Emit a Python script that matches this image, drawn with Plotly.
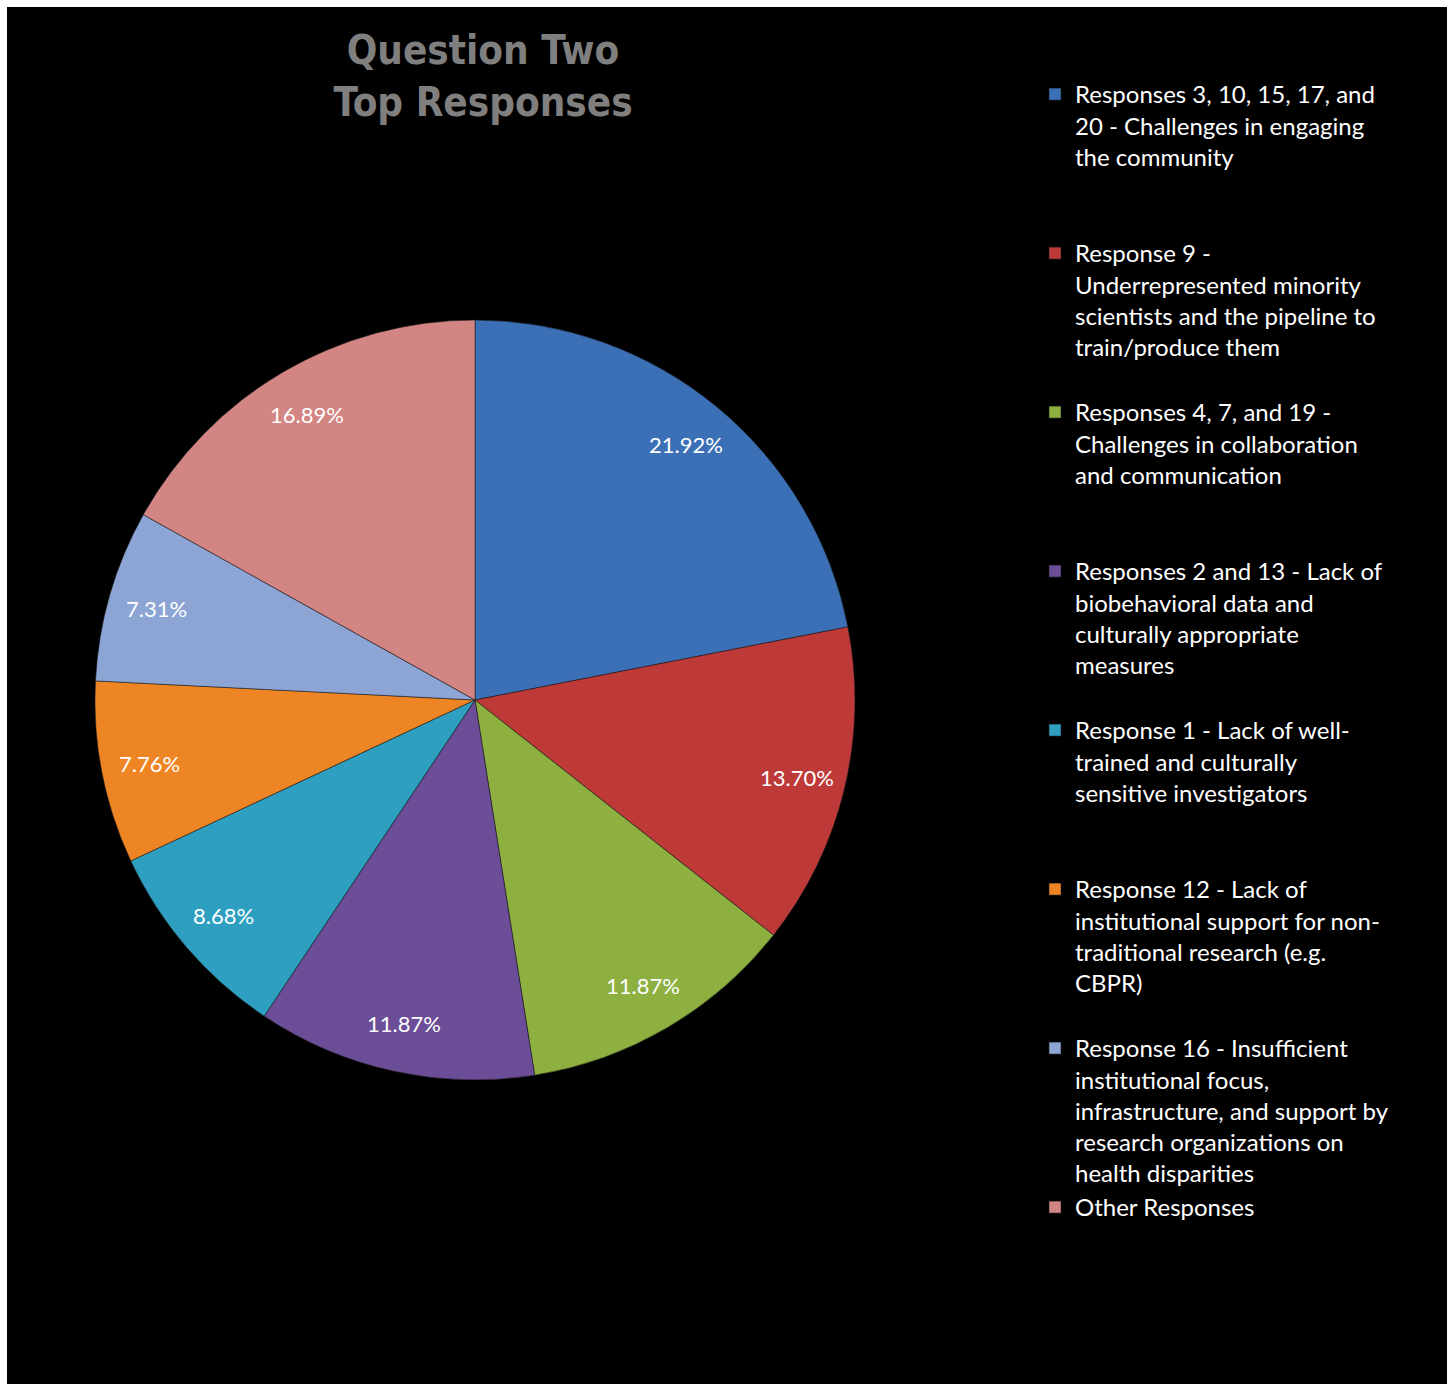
import math
import plotly.graph_objects as go

# ---------------- data ----------------
categories = [
    "Responses 3, 10, 15, 17, and<br>20 - Challenges in engaging<br>the community",
    "Response 9 -<br>Underrepresented minority<br>scientists and the pipeline to<br>train/produce them",
    "Responses 4, 7, and 19 -<br>Challenges in collaboration<br>and communication",
    "Responses 2 and 13 - Lack of<br>biobehavioral data and<br>culturally appropriate<br>measures",
    "Response 1 - Lack of well-<br>trained and culturally<br>sensitive investigators",
    "Response 12 - Lack of<br>institutional support for non-<br>traditional research (e.g.<br>CBPR)",
    "Response 16 - Insufficient<br>institutional focus,<br>infrastructure, and support by<br>research organizations on<br>health disparities",
    "Other Responses",
]
values = [21.92, 13.70, 11.87, 11.87, 8.68, 7.76, 7.31, 16.89]
colors = ["#3B6FB6", "#BE3A39", "#8DB040", "#6C4D97",
          "#2E9FC0", "#EE8524", "#8CA5D5", "#D38583"]
title_text = "Question Two<br>Top Responses"

# ---------------- layout geometry ----------------
W, H = 1450, 1384
ML, MR, MT, MB = 7, 3, 7, 0
PW, PH = W - ML - MR, H - MT - MB
CX, CY, R = 475, 700, 380          # pie centre / radius in pixels
LABEL_R = 0.872                      # label distance as fraction of radius
LEGEND_LINES = 5


def px_x(px):
    return (px - ML) / PW


def px_y(py):
    return (H - MB - py) / PH


# pad legend labels to equal line count so entries are evenly spaced
legend_labels = []
for c in categories:
    n = c.count("<br>") + 1
    legend_labels.append(c + "<br>&nbsp;" * (LEGEND_LINES - n))

fig = go.Figure()
fig.add_trace(go.Pie(
    labels=legend_labels,
    values=values,
    sort=False,
    direction="clockwise",
    rotation=0,
    textinfo="none",
    hoverinfo="label+percent",
    marker=dict(colors=colors, line=dict(color="rgba(25,25,25,0.55)", width=1)),
    domain=dict(x=[px_x(CX - R), px_x(CX + R)], y=[px_y(CY + R), px_y(CY - R)]),
))

# percentage labels placed on each slice's bisector
total = sum(values)
annotations = []
cum = 0.0
for v in values:
    mid = (cum + v / 2) / total * 2 * math.pi
    cum += v
    lx = CX + LABEL_R * R * math.sin(mid)
    ly = CY - LABEL_R * R * math.cos(mid)
    annotations.append(dict(
        x=px_x(lx), y=px_y(ly), xref="paper", yref="paper",
        text=f"{v / total * 100:.2f}%", showarrow=False,
        xanchor="center", yanchor="middle",
        font=dict(family="Lato, Carlito, 'Open Sans', sans-serif", size=22, color="white"),
    ))

fig.update_layout(
    width=W, height=H,
    margin=dict(l=ML, r=MR, t=MT, b=MB, pad=0),
    paper_bgcolor="white",
    plot_bgcolor="black",
    shapes=[dict(type="rect", xref="paper", yref="paper", x0=0, x1=1, y0=0, y1=1,
                 fillcolor="black", line=dict(width=0), layer="below")],
    title=dict(
        text=title_text,
        x=px_x(483), xref="paper", xanchor="center",
        y=1 - 64 / H, yref="container", yanchor="top",
        font=dict(family="'Liberation Sans Narrow', 'Arial Narrow', 'DejaVu Sans Condensed', sans-serif",
                  size=40, color="#7F7F7F", weight="bold"),
    ),
    legend=dict(
        x=px_x(1035), xanchor="left",
        y=px_y(72), yanchor="top",
        valign="top",
        bgcolor="rgba(0,0,0,0)",
        font=dict(family="Lato, Carlito, 'Open Sans', sans-serif", size=24, color="white"),
        tracegroupgap=0,
    ),
    annotations=annotations,
    showlegend=True,
)

fig.write_html("out.html")
